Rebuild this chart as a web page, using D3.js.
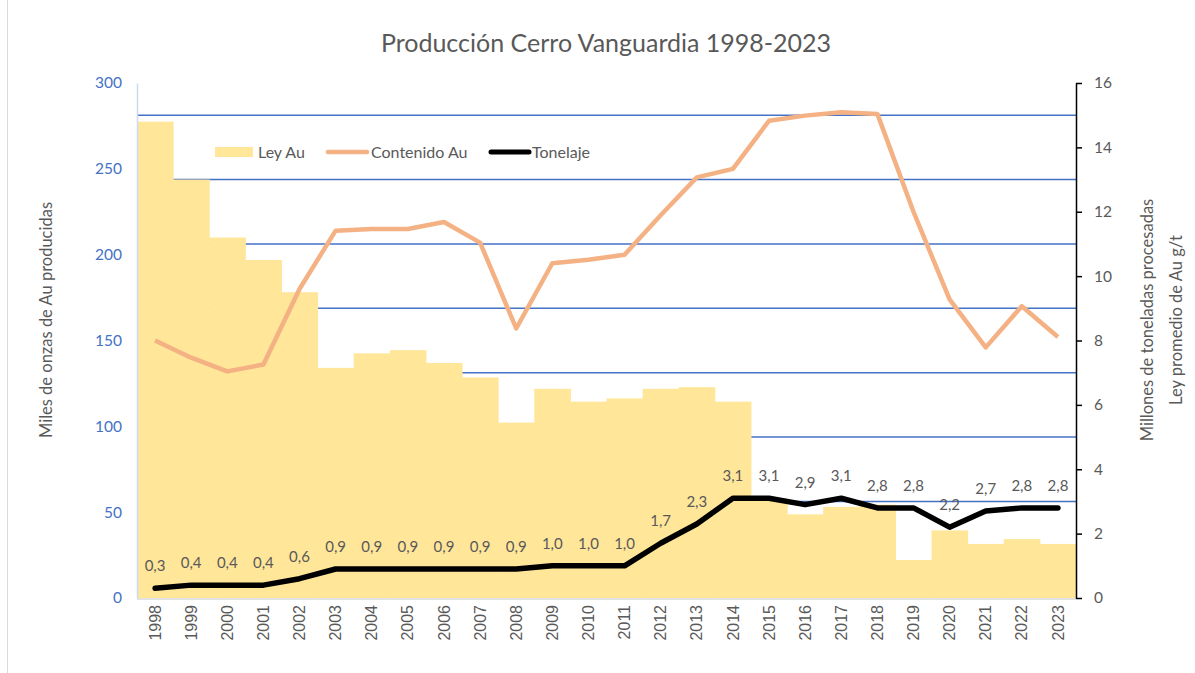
<!DOCTYPE html>
<html>
<head>
<meta charset="utf-8">
<script src="https://cdn.jsdelivr.net/npm/d3@7"></script>
<style>
  body { margin: 0; background: #fff; }
  svg { display: block; font-family: Lato, "Open Sans", sans-serif; }
</style>
</head>
<body>
<svg id="chart"></svg>
<script>
// data
const years = ["1998","1999","2000","2001","2002","2003","2004","2005","2006","2007","2008","2009","2010",
  "2011","2012","2013","2014","2015","2016","2017","2018","2019","2020","2021","2022","2023"]
// Ley Au (g/t), right axis
const leyAu = [14.8, 13.0, 11.2, 10.5, 9.5, 7.15, 7.6, 7.7, 7.3, 6.85, 5.45, 6.5, 6.1,
  6.2, 6.5, 6.55, 6.1, 3.1, 2.6, 2.83, 2.9, 1.18, 2.1, 1.68, 1.83, 1.68]
// Contenido Au (miles de onzas), left axis
const contenidoAu = [150, 140, 132, 136, 180, 214, 215, 215, 219, 207, 157, 195, 197,
  200, 223, 245, 250, 278, 281, 283, 282, 225, 174, 146, 170, 152]
// Tonelaje (millones de toneladas), right axis
const tonelaje = [0.3, 0.4, 0.4, 0.4, 0.6, 0.9, 0.9, 0.9, 0.9, 0.9, 0.9, 1.0, 1.0,
  1.0, 1.7, 2.3, 3.1, 3.1, 2.9, 3.1, 2.8, 2.8, 2.2, 2.7, 2.8, 2.8]
const leftTicks = [0, 50, 100, 150, 200, 250, 300]
const rightTicks = [0, 2, 4, 6, 8, 10, 12, 14, 16]
const gridValues = [3, 5, 7, 9, 11, 13, 15]

const W = 1195, H = 673
const mLeft = 137, mRight = 1076, mTop = 83, mBottom = 598
const grey = "#595959"

const svg = d3.select("#chart").attr("width", W).attr("height", H)

// chart frame
svg.append("rect")
  .attr("x", 7.5).attr("y", -1).attr("width", W).attr("height", H + 2)
  .attr("fill", "none").attr("stroke", "#d9d9d9")

const x = d3.scaleBand().domain(years).range([mLeft, mRight]).padding(0)
const yL = d3.scaleLinear().domain([0, 300]).range([mBottom, mTop])
const yR = d3.scaleLinear().domain([0, 16]).range([mBottom, mTop])
const cx = d => x(d) + x.bandwidth() / 2

// gridlines
svg.append("g").selectAll("line")
  .data(gridValues)
  .join("line")
  .attr("x1", mLeft).attr("x2", mRight)
  .attr("y1", d => yR(d)).attr("y2", d => yR(d))
  .attr("stroke", "#4472C4").attr("stroke-width", 1.5)

// bars
svg.append("g").selectAll("rect")
  .data(leyAu)
  .join("rect")
  .attr("x", (d, i) => x(years[i]))
  .attr("y", d => yR(d))
  .attr("width", x.bandwidth() + 0.5)
  .attr("height", d => yR(0) - yR(d))
  .attr("fill", "#FFE699")

// left axis
const axL = svg.append("g")
  .attr("transform", `translate(${mLeft},0)`)
  .call(d3.axisLeft(yL).tickValues(leftTicks).tickSize(0).tickPadding(15))
axL.select(".domain").attr("stroke", "#c9dcf0").attr("stroke-width", 1.5)
axL.selectAll("text").attr("fill", "#4472C4").style("font-size", "15.5px").style("font-family", "Lato")

// bottom axis
svg.append("line")
  .attr("x1", mLeft).attr("x2", mRight).attr("y1", mBottom + 1).attr("y2", mBottom + 1)
  .attr("stroke", "#d9d9d9").attr("stroke-width", 1.5)

const axB = svg.append("g")
  .attr("transform", `translate(0,${mBottom})`)
  .call(d3.axisBottom(x).tickSize(0))
axB.select(".domain").remove()
axB.selectAll("text")
  .attr("transform", "rotate(-90)")
  .attr("text-anchor", "end")
  .attr("x", -7).attr("y", 0).attr("dy", "0.35em")
  .attr("fill", grey).style("font-size", "16px").style("font-family", "Liberation Sans")

// right axis
const axR = svg.append("g")
  .attr("transform", `translate(${mRight},0)`)
  .call(d3.axisRight(yR).tickValues(rightTicks).tickSize(6).tickSizeOuter(0).tickPadding(12))
axR.select(".domain").attr("stroke", "#000").attr("stroke-width", 1.5)
axR.selectAll(".tick line").attr("stroke", "#000").attr("stroke-width", 1.5)
axR.selectAll("text").attr("fill", grey).style("font-size", "15.5px").style("font-family", "Lato")

// Contenido Au line
svg.append("path")
  .datum(contenidoAu)
  .attr("fill", "none")
  .attr("stroke", "#F4B183").attr("stroke-width", 4.5)
  .attr("stroke-linejoin", "round")
  .attr("d", d3.line().x((d, i) => cx(years[i])).y(d => yL(d)))

// Tonelaje line
svg.append("path")
  .datum(tonelaje)
  .attr("fill", "none")
  .attr("stroke", "#000").attr("stroke-width", 5.5)
  .attr("stroke-linejoin", "round").attr("stroke-linecap", "round")
  .attr("d", d3.line().x((d, i) => cx(years[i])).y(d => yR(d)))

// data labels
svg.append("g").selectAll("text")
  .data(tonelaje)
  .join("text")
  .attr("x", (d, i) => cx(years[i]))
  .attr("y", d => yR(d) - 17)
  .attr("text-anchor", "middle")
  .attr("fill", grey).style("font-size", "15px")
  .text(d => d.toFixed(1).replace(".", ","))

// title
svg.append("text")
  .attr("x", 606).attr("y", 52)
  .attr("text-anchor", "middle")
  .attr("fill", grey).style("font-size", "25px")
  .text("Producción Cerro Vanguardia 1998-2023")

// axis titles
svg.append("text")
  .attr("transform", "translate(52,320) rotate(-90)")
  .attr("text-anchor", "middle")
  .attr("fill", grey).style("font-size", "16.5px")
  .text("Miles de onzas de Au producidas")

const rt = svg.append("text")
  .attr("transform", "translate(1153,320) rotate(-90)")
  .attr("text-anchor", "middle")
  .attr("fill", grey).style("font-size", "16.5px")
rt.append("tspan").attr("x", 0).attr("dy", 0).text("Millones de toneladas procesadas")
rt.append("tspan").attr("x", 0).attr("dy", "1.75em").text("Ley promedio de Au g/t")

// legend
const leg = svg.append("g").attr("transform", "translate(0,152)")
leg.append("rect").attr("x", 215).attr("y", -5).attr("width", 38).attr("height", 10).attr("fill", "#FFE699")
leg.append("text").attr("x", 258).attr("y", 0).attr("dy", "0.35em").attr("fill", grey).style("font-size", "16px").text("Ley Au")
leg.append("line").attr("x1", 328).attr("x2", 367).attr("y1", 0).attr("y2", 0)
  .attr("stroke", "#F4B183").attr("stroke-width", 4.5).attr("stroke-linecap", "round")
leg.append("text").attr("x", 371).attr("y", 0).attr("dy", "0.35em").attr("fill", grey).style("font-size", "16px").text("Contenido Au")
leg.append("line").attr("x1", 491).attr("x2", 529).attr("y1", 0).attr("y2", 0)
  .attr("stroke", "#000").attr("stroke-width", 5).attr("stroke-linecap", "round")
leg.append("text").attr("x", 532).attr("y", 0).attr("dy", "0.35em").attr("fill", grey).style("font-size", "16px").text("Tonelaje")
</script>
</body>
</html>
